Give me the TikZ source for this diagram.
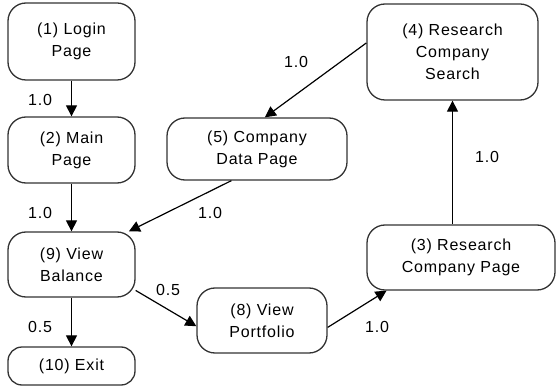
\documentclass[tikz,border=0pt]{standalone}
\usepackage{fontspec}
\setmainfont{Liberation Sans}[LetterSpace=5]
\usetikzlibrary{arrows.meta}
\begin{document}
\begin{tikzpicture}
  [
    x=1pt, y=-1pt,
    page/.style={draw=black!80, line width=1.3pt, rounded corners=18pt,
      align=center, inner sep=0pt, font=\fontsize{16}{22}\selectfont},
    weight/.style={font=\fontsize{16}{22}\selectfont},
    flow/.style={-{Triangle[length=11pt,width=11pt]}, line width=1.2pt}
  ]
  \useasboundingbox (0,0) rectangle (556,387);
  % left column
  \node [page, minimum width=127pt, minimum height=77pt] (login) at (71.5,41.5) {(1) Login\\Page};
  \node [page, minimum width=127pt, minimum height=66pt] (main) at (71.5,150) {(2) Main\\Page};
  \node [page, minimum width=127pt, minimum height=65pt] (balance) at (71.5,264.5) {(9) View\\Balance};
  \node [page, minimum width=127pt, minimum height=38pt, rounded corners=14pt] (exit) at (71.5,366) {(10) Exit};
  % middle
  \node [page, minimum width=180pt, minimum height=62pt] (data) at (257,149) {(5) Company\\Data Page};
  \node [page, minimum width=130pt, minimum height=65pt] (portfolio) at (262,320.5) {(8) View\\Portfolio};
  % right column
  \node [page, minimum width=171pt, minimum height=96pt] (search) at (452.5,52) {(4) Research\\Company\\Search};
  \node [page, minimum width=188pt, minimum height=65pt] (research) at (461,257.5) {(3) Research\\Company Page};
  % weights
  \node [weight] (w12) at (40,100) {1.0};
  \node [weight] (w29) at (40,213) {1.0};
  \node [weight] (w910) at (40,327) {0.5};
  \node [weight] (w59) at (210,213) {1.0};
  \node [weight] (w98) at (168,290) {0.5};
  \node [weight] (w83) at (377,327) {1.0};
  \node [weight] (w34) at (487,157) {1.0};
  \node [weight] (w45) at (296,62) {1.0};
  % transitions
  \draw [flow] (login) -- (main);
  \draw [flow] (main) -- (balance);
  \draw [flow] (balance) -- (exit);
  \draw [flow] (data.-129) -- (balance.30);
  \draw [flow] (balance.-22) -- (portfolio.185);
  \draw [flow] (portfolio.-6) -- (research.204);
  \draw [flow] (research.north -| search.south) -- (search.south);
  \draw [flow] (search.174) -- (data.76);
\end{tikzpicture}
\end{document}
